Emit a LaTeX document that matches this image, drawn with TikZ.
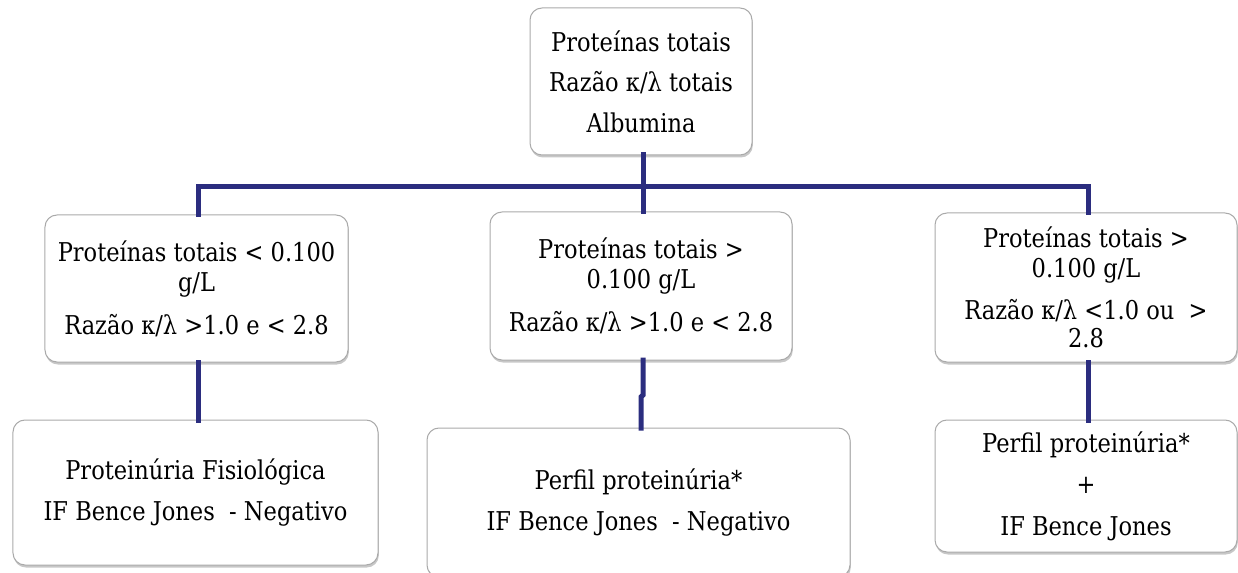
\documentclass[tikz,border=0pt]{standalone}
\usepackage{fontspec}
\setmainfont{DejaVu Serif}[FakeStretch=0.87]
\usetikzlibrary{shadows}
\definecolor{navy}{RGB}{43,45,127}
\definecolor{boxline}{RGB}{170,170,170}
\tikzset{
  box/.style={draw=boxline, line width=1bp, fill=white, rounded corners=12bp,
    inner sep=0pt, outer sep=0pt, align=center,
    font=\fontsize{26}{30}\selectfont,
    drop shadow={shadow xshift=0.8bp, shadow yshift=-2.5bp, fill=black, opacity=0.22}},
  conn/.style={draw=navy, line width=5bp, line join=miter, line cap=rect}
}
\begin{document}
\begin{tikzpicture}[x=1bp,y=-1bp]
\useasboundingbox (0,0) rectangle (1238,573);

\node[box, minimum width=222bp, minimum height=147bp] (top) at (641,81.5)
  {Proteínas totais\\[10.5bp]Razão κ/λ totais\\[10.5bp]Albumina};

\node[box, minimum width=303bp, minimum height=147bp] (m1) at (196.5,288.5)
  {Proteínas totais < 0.100\\g/L\\[13bp]Razão κ/λ >1.0 e < 2.8};
\node[box, minimum width=302bp, minimum height=148bp] (m2) at (641,286)
  {Proteínas totais >\\0.100 g/L\\[13bp]Razão κ/λ >1.0 e < 2.8};
\node[box, minimum width=302bp, minimum height=149bp] (m3) at (1086,287.5)
  {Proteínas totais >\\0.100 g/L\\[12bp]Razão κ/λ <1.0 ou\ \ >\\[-2bp]2.8};

\node[box, minimum width=365bp, minimum height=145bp] (b1) at (195.5,492.5)
  {Proteinúria Fisiológica\\[10.5bp]IF Bence Jones\ \ - Negativo};
\node[box, minimum width=423bp, minimum height=149bp] (b2) at (638.5,502.5)
  {Perfil proteinúria*\\[11bp]IF Bence Jones\ \ - Negativo};
\node[box, minimum width=302bp, minimum height=132bp] (b3) at (1086,486)
  {Perfil proteinúria*\\[11.5bp]+\\[11.5bp]IF Bence Jones};

\coordinate (hbar) at (641,187);

\draw[conn] ([xshift=1.5bp]m1.north) -- ([xshift=1.5bp]m1.north |- hbar)
  -- ([xshift=2bp]m3.north |- hbar) -- ([xshift=2bp]m3.north);
\draw[conn] ([xshift=2bp]top.south) -- ([xshift=2bp]m2.north);
\draw[conn] ([xshift=1.5bp]m1.south) -- ([xshift=1.5bp]m1.south |- b1.north);
\draw[conn] ([xshift=2bp]m2.south) -- ++(0,35) -- ++(-2,2) -- ([xshift=2.5bp]b2.north);
\draw[conn] ([xshift=2bp]m3.south) -- ([xshift=2bp]b3.north);
\end{tikzpicture}
\end{document}
